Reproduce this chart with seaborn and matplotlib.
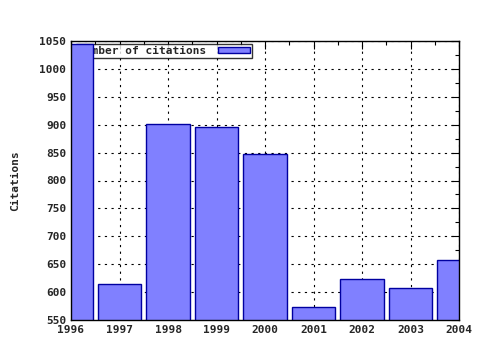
import matplotlib
matplotlib.use("Agg")
import matplotlib.pyplot as plt
import seaborn as sns
import pandas as pd
from matplotlib.ticker import MultipleLocator

years = [1996, 1997, 1998, 1999, 2000, 2001, 2002, 2003, 2004]
citations = [1045, 615, 901, 896, 848, 573, 623, 607, 658]
series_label = "Number of citations"
y_label = "Citations"

sns.set_theme(style="white")
plt.rcParams['font.family'] = ['DejaVu Sans Mono', 'DejaVu Sans']
plt.rcParams['font.weight'] = 'bold'

df = pd.DataFrame({"year": years, "citations": citations})

fig = plt.figure(figsize=(4.8, 3.5), dpi=100)
ax = fig.add_axes([71/480, 30/350, 388/480, 279/350])

sns.barplot(data=df, x="year", y="citations", native_scale=True, width=0.9,
            color="#8080ff", saturation=1, edgecolor="#0000a0", linewidth=1,
            label=series_label, ax=ax)
for p in ax.patches:
    p.set_zorder(3)

ax.set_xlim(1996, 2004)
ax.set_ylim(550, 1050)
ax.xaxis.set_major_locator(MultipleLocator(1))
ax.xaxis.set_minor_locator(MultipleLocator(0.5))
ax.yaxis.set_major_locator(MultipleLocator(50))
ax.yaxis.set_minor_locator(MultipleLocator(25))
ax.set_xticks(years)
ax.set_xticklabels([str(y) for y in years])
ax.grid(True, which="major", color="black", linestyle=(0, (2, 4)), linewidth=0.8, zorder=1)
ax.set_axisbelow(True)
ax.tick_params(which="both", direction="in", top=True, right=True, color="black",
               labelsize=8, width=0.8)
ax.tick_params(which="major", length=6)
ax.tick_params(which="minor", length=3)
for s in ax.spines.values():
    s.set_color("black")
    s.set_linewidth(1)
    s.set_zorder(5)
ax.set_xlabel("")
ax.set_ylabel(y_label, fontsize=8, fontweight="bold", labelpad=14)

leg = ax.legend(loc="upper left", bbox_to_anchor=(5/388, 1 - 3/279), borderaxespad=0,
                markerfirst=False, frameon=True, fancybox=False, fontsize=8,
                handlelength=2.9, handleheight=0.45, borderpad=0.2, handletextpad=1.0)
leg.get_frame().set_edgecolor("black")
leg.get_frame().set_linewidth(1)
leg.set_zorder(2)
for t in leg.get_texts():
    t.set_fontweight("bold")

fig.savefig("out.png", dpi=100, facecolor="white")
